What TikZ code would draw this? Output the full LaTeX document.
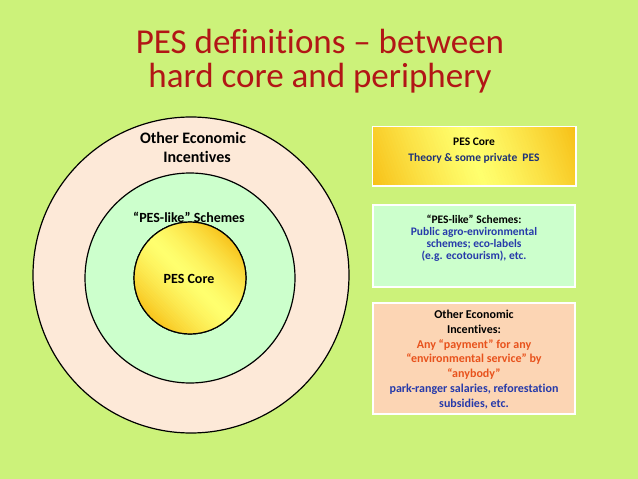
\documentclass[tikz,border=0pt]{standalone}
\usepackage{fontspec}
\setmainfont{Carlito}[Ligatures=NoCommon]
\definecolor{slidegreen}{RGB}{204,242,122}
\definecolor{ringpeach}{RGB}{253,233,216}
\definecolor{ringgreen}{RGB}{204,255,204}
\definecolor{coreorange}{RGB}{247,190,20}
\definecolor{corelight}{RGB}{255,255,110}
\definecolor{boxpeach}{RGB}{252,213,180}
\definecolor{titlered}{RGB}{178,22,22}
\definecolor{textblue}{RGB}{38,58,170}
\definecolor{textnavy}{RGB}{30,50,120}
\definecolor{textorange}{RGB}{232,82,28}
\tikzset{
  ring/.style={circle,draw=black,line width=1.2pt,inner sep=0pt},
  defbox/.style={rectangle,draw=white,line width=1.5pt,minimum width=202pt,inner sep=0pt},
  ringlabel/.style={font=\bfseries\fontsize{14}{16}\selectfont,align=center,inner sep=0pt},
  boxtext/.style={font=\bfseries\fontsize{12}{14.7}\selectfont,align=center,inner sep=0pt}
}
\begin{document}
\begin{tikzpicture}[x=1pt,y=-1pt]
\path[use as bounding box] (0,0) rectangle (638,479);
\fill[slidegreen] (0,0) rectangle (638,479);
% title
\node[font=\fontsize{35}{34}\selectfont,text=titlered,align=center,inner sep=0pt] (title) at (320,61) {PES definitions -- between\\hard core and periphery};
% rings
\node[ring,fill=ringpeach,minimum size=316pt] (outer) at (191,275) {};
\node[ring,fill=ringgreen,minimum size=210pt] (middle) at (190,278) {};
\node[ring,minimum size=112pt] (core) at (190,278) {};
\begin{scope}
  \clip (core.center) circle (56);
  \foreach \i in {-30,...,29} {
    \pgfmathsetmacro\mix{100*(abs(\i+0.5)/30)^1.4}
    \fill[coreorange!\mix!corelight,rotate around={45:(core.center)}]
      ([xshift=2*\i pt]core.center) ++(0,-60) rectangle ++(2.4,120);
  }
\end{scope}
\draw[black,line width=1.2pt] (core.center) circle (56);
\node[ringlabel,font=\bfseries\fontsize{16}{19}\selectfont] (outerlabel) at (193,147) {Other Economic\\\hspace*{8pt}Incentives};
\node[ringlabel] (middlelabel) at (189,217) {“PES-like” Schemes};
\node[ringlabel] (corelabel) at (189,279) {PES Core};
% definition boxes
\node[defbox,minimum height=58pt] (corebox) at (474,156) {};
\begin{scope}
  \clip (corebox.north west) rectangle (corebox.south east);
  \foreach \i in {-36,...,35} {
    \pgfmathsetmacro\mix{100*(abs(\i+0.5)/36)^1.2}
    \fill[coreorange!\mix!corelight,rotate around={20:(corebox.center)}]
      ([xshift=3*\i pt]corebox.center) ++(0,-110) rectangle ++(3.4,220);
  }
\end{scope}
\draw[white,line width=1.5pt] (corebox.north west) rectangle (corebox.south east);
\node[defbox,fill=ringgreen,minimum height=82pt] (likebox) at (474,246) {};
\node[defbox,fill=boxpeach,minimum height=111pt] (otherbox) at (474,358.5) {};
\node[boxtext,font=\bfseries\fontsize{11.5}{16}\selectfont,anchor=north] (coretext) at ([yshift=-12pt]corebox.north)
  {PES Core\\\textcolor{textnavy}{Theory \& some private \ PES}};
\node[boxtext,font=\bfseries\fontsize{11.5}{11.8}\selectfont,anchor=north] (liketext) at ([yshift=-11pt]likebox.north)
  {“PES-like” Schemes:\\\textcolor{textblue}{Public agro-environmental}\\\textcolor{textblue}{schemes; eco-labels}\\\textcolor{textblue}{(e.g. ecotourism), etc.}};
\node[boxtext,anchor=north] (othertext) at ([yshift=-8pt]otherbox.north)
  {Other Economic\\Incentives:\\\textcolor{textorange}{Any “payment” for any}\\\textcolor{textorange}{“environmental service” by}\\\textcolor{textorange}{“anybody”}\\\textcolor{textblue}{park-ranger salaries, reforestation}\\\textcolor{textblue}{subsidies, etc.}};
\end{tikzpicture}
\end{document}
